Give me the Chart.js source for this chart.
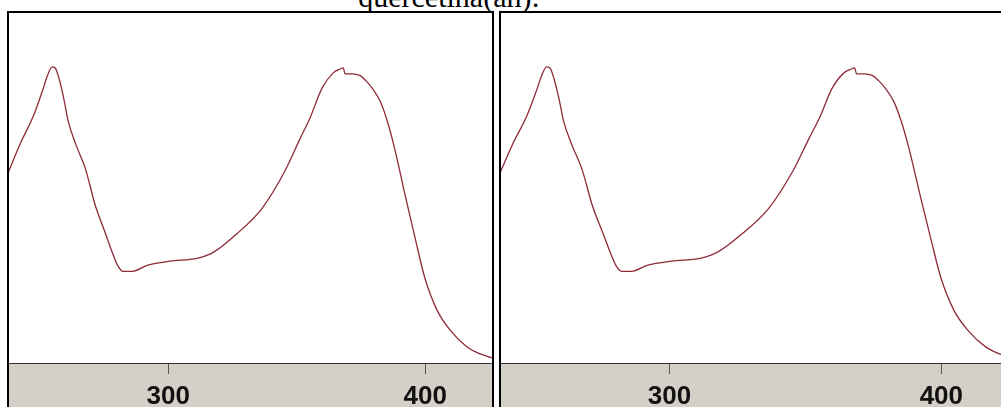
<!DOCTYPE html>
<html>
<head>
<meta charset="utf-8">
<script src="https://cdn.jsdelivr.net/npm/chart.js@4/dist/chart.umd.min.js"></script>
<style>
  html, body { margin: 0; padding: 0; background: #fff; overflow: hidden; width: 1001px; height: 407px; }
  .title { position: absolute; left: 0; width: 898px; top: -18px; text-align: center;
           font: 30px "Liberation Serif", "DejaVu Serif", serif; line-height: 30px; color: #000; }
  .panel { position: absolute; top: 11px; border: 2px solid #000; border-bottom: none; background: #d4d0c8; }
  #left { left: 7px; width: 483px; height: 400px; }
  #right { left: 499px; width: 511px; height: 400px; }
  canvas { display: block; }
</style>
</head>
<body>
<div class="title">quercetina(ah):</div>
<div class="panel" id="left"><canvas id="c1" width="483" height="400"></canvas></div>
<div class="panel" id="right"><canvas id="c2" width="511" height="400"></canvas></div>
<script>
// spectrum (nm, absorbance on a 0..1 scale)
const wavelength = [237.7, 242.4, 247.4, 250.9, 253.2, 254.8, 256.0, 257.5, 259.5, 261.0,
                    264.2, 267.7, 271.6, 275.4, 278.6, 280.5, 282.4, 286.0, 291.8, 300.7,
                    311.2, 317.5, 326.8, 336.5, 345.5, 351.3, 355.2, 359.9, 364.2, 366.9,
                    368.1, 368.8, 371.6, 374.7, 377.0, 379.3, 382.4, 385.2, 388.3, 392.2,
                    396.1, 399.9, 404.6, 409.7, 416.3, 421.4, 426.4];
const absorbance = [0.544, 0.627, 0.704, 0.775, 0.826, 0.846, 0.843, 0.812, 0.749, 0.692,
                    0.621, 0.556, 0.450, 0.373, 0.308, 0.276, 0.262, 0.262, 0.279, 0.291,
                    0.299, 0.316, 0.370, 0.442, 0.550, 0.641, 0.701, 0.786, 0.829, 0.840,
                    0.843, 0.826, 0.826, 0.821, 0.806, 0.786, 0.749, 0.692, 0.607, 0.479,
                    0.356, 0.242, 0.151, 0.094, 0.046, 0.026, 0.014];
const xTicks = [300, 400];
const xMin = 238, xMax = 426;

const whiteArea = {
  id: 'whiteArea',
  beforeDraw(chart) {
    const { ctx, chartArea: a } = chart;
    ctx.save();
    ctx.fillStyle = '#fff';
    ctx.fillRect(a.left, a.top, a.right - a.left, a.bottom - a.top);
    ctx.restore();
  }
};

function spectrum(id) {
  return new Chart(document.getElementById(id), {
    type: 'line',
    data: {
      datasets: [{
        data: wavelength.map((x, i) => ({ x, y: absorbance[i] })),
        borderColor: '#8e2b36',
        borderWidth: 1.3,
        pointRadius: 0,
        cubicInterpolationMode: 'monotone',
        fill: false
      }]
    },
    options: {
      responsive: false,
      animation: false,
      events: [],
      layout: { padding: 0 },
      plugins: { legend: { display: false }, tooltip: { enabled: false } },
      scales: {
        x: {
          type: 'linear', min: xMin, max: xMax,
          afterBuildTicks: s => { s.ticks = xTicks.map(value => ({ value })); },
          afterFit: s => { s.height = 50; },
          grid: { drawOnChartArea: false, tickLength: 11, color: '#555' },
          border: { color: '#333', width: 1 },
          ticks: {
            font: { family: '"Liberation Sans", Arial, sans-serif', size: 26, weight: 'bold' },
            color: '#111', padding: 7, maxRotation: 0
          }
        },
        y: { display: false, min: 0, max: 1 }
      }
    },
    plugins: [whiteArea]
  });
}

spectrum('c1');
spectrum('c2');
</script>
</body>
</html>
